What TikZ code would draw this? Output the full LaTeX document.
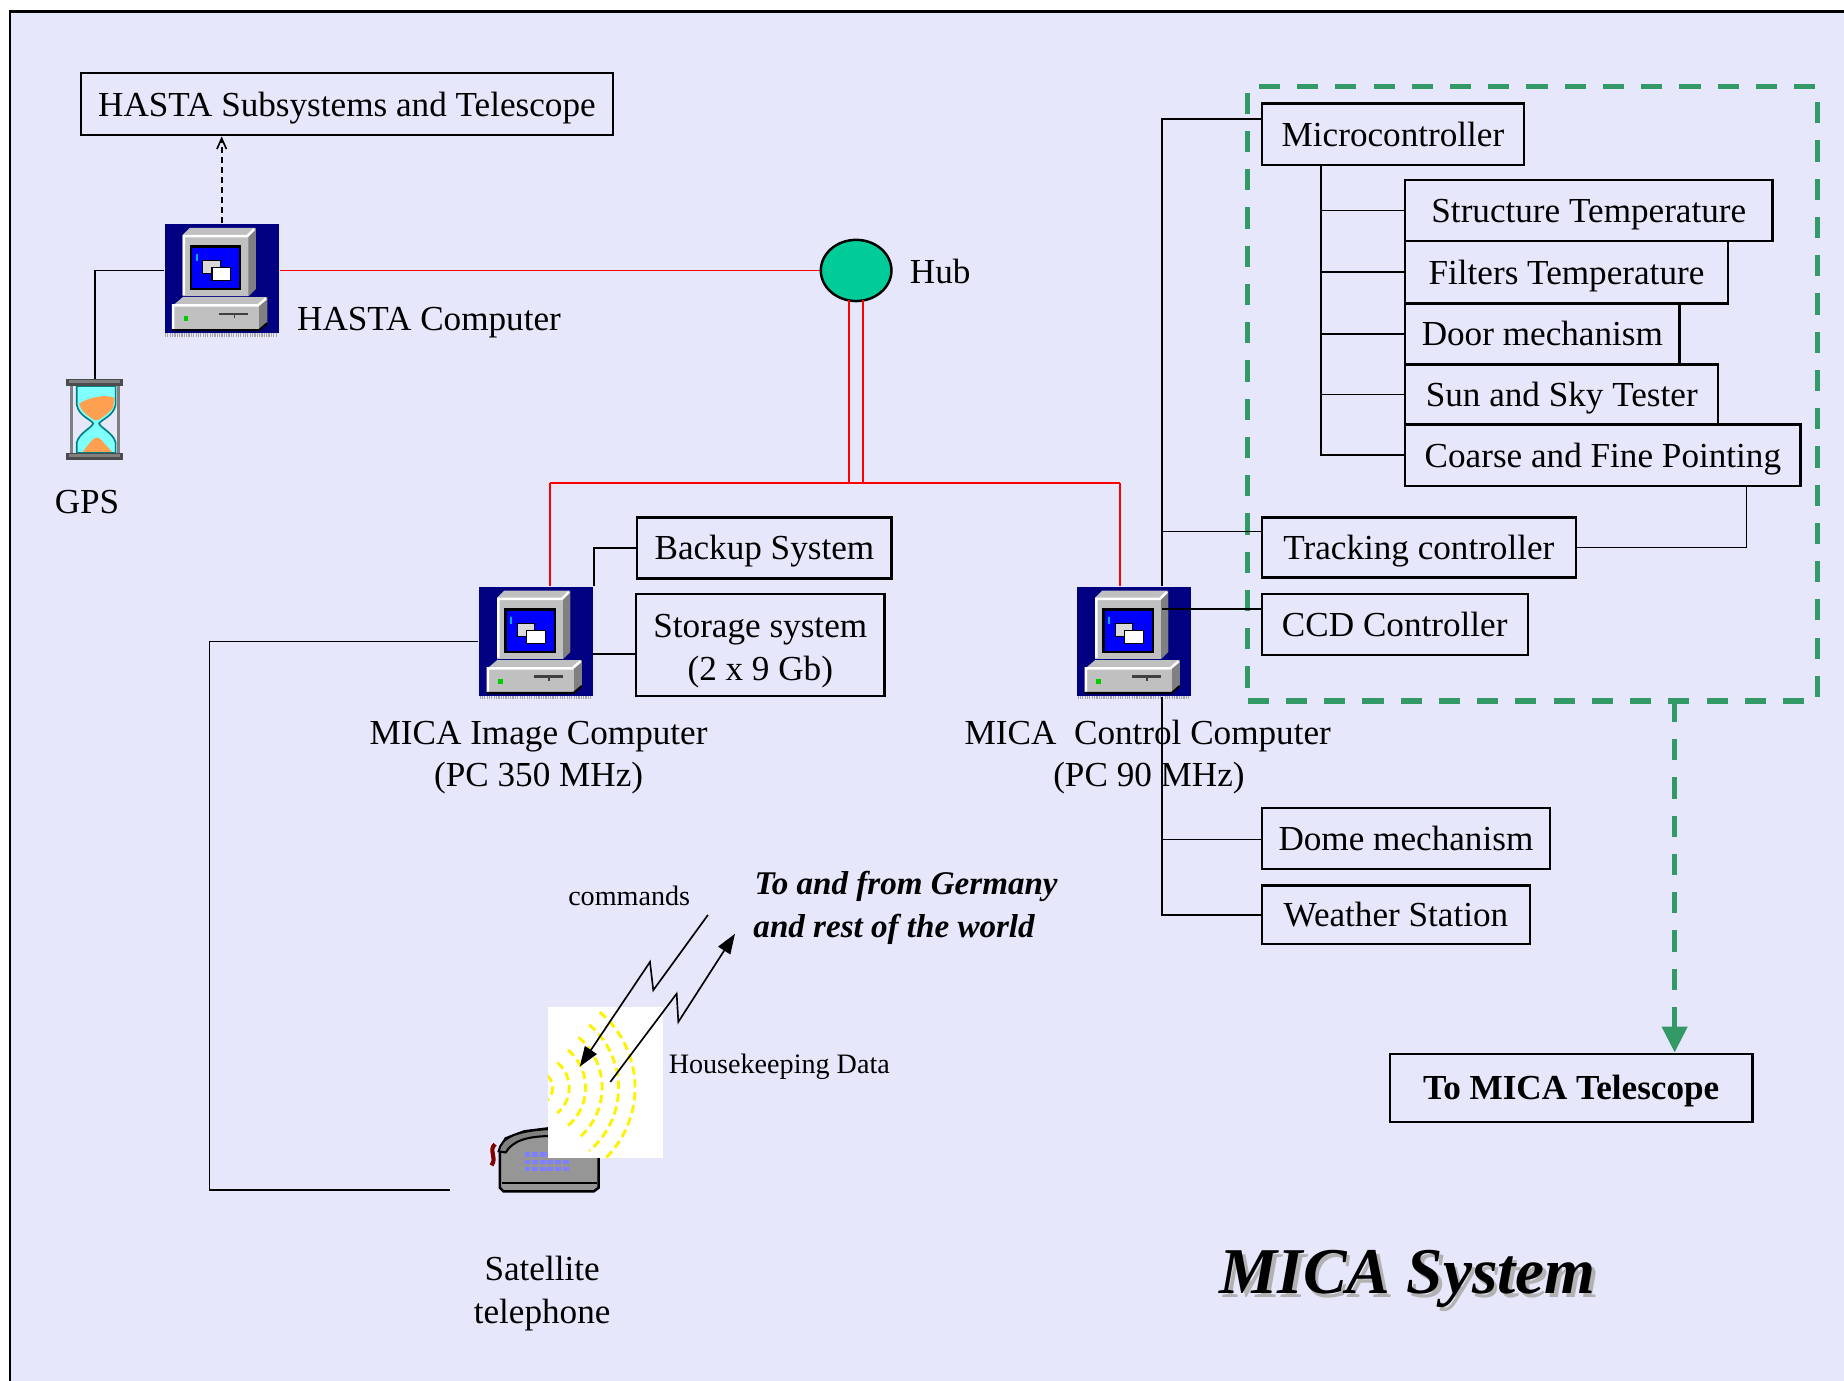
\documentclass[tikz,border=0pt]{standalone}
\usepackage{fontspec}
\setmainfont{Liberation Serif}
\usetikzlibrary{arrows.meta,shapes.geometric}

\definecolor{bgl}{RGB}{231,231,252}
\definecolor{navyc}{RGB}{0,0,128}
\definecolor{lgr}{RGB}{192,192,192}
\definecolor{dgr}{RGB}{128,128,128}
\definecolor{scr}{RGB}{0,0,255}
\definecolor{hubg}{RGB}{0,204,153}
\definecolor{grn}{RGB}{51,153,102}
\definecolor{wred}{RGB}{255,0,0}
\definecolor{sand}{RGB}{255,160,80}
\definecolor{glass}{RGB}{128,255,255}
\definecolor{keyb}{RGB}{128,128,255}
\definecolor{cordc}{RGB}{128,0,0}
\definecolor{phg}{RGB}{150,150,150}

\newcommand\diaglbl{\fontsize{8.5}{10.4}\selectfont}
\newcommand\diagsmall{\fontsize{6.8}{8}\selectfont}
\newcommand\diagworld{\fontsize{8}{10}\selectfont\bfseries\itshape}
\newcommand\diagtitle{\fontsize{15.8}{18}\selectfont\bfseries\itshape}

\tikzset{
  % desktop computer, drawn from the top left corner of its 97 x 93 navy tile
  pcicon/.pic={
    \fill[lgr] (16,10) -- (22,4) -- (78,4) -- (78,56) -- (72,62) -- (16,62) -- cycle;
    \fill[dgr] (72,10) -- (78,4) -- (78,56) -- (72,62) -- cycle;
    \draw[white, line width=0.6pt] (17,61) -- (17,11) -- (71,11) -- (77,5);
    \fill[black] (22,19) rectangle (66,57);
    \fill[scr] (24,21) rectangle (64,55);
    \fill[cyan] (27,26) rectangle (29,32);
    \filldraw[fill=lgr!60, draw=black, line width=0.3pt] (33,32) rectangle (48,43);
    \filldraw[fill=white, draw=black, line width=0.3pt] (41,38) rectangle (57,49);
    \fill[lgr] (9,69) -- (16,63) -- (88,63) -- (81,69) -- cycle;
    \fill[dgr] (81,69) -- (88,63) -- (88,85) -- (81,91) -- cycle;
    \fill[lgr] (7,69) rectangle (81,91);
    \draw[white, line width=0.6pt] (8,90) -- (8,70) -- (80,70) -- (87,64);
    \draw[black, line width=0.5pt] (7,91) -- (81,91) -- (88,85);
    \fill[green!80!black] (17,79) rectangle (21,83);
    \fill[black!75] (47,76) rectangle (72,78);
    \draw[black!75, line width=0.3pt] (60,78) -- (60,81);
    \draw[black!35, line width=0.8pt, dash pattern=on 0.01cm off 0.01cm] (1,95) -- (96,95);
  },
  % hourglass, drawn from the top left corner of its 48 x 69 tile
  hgicon/.pic={
    \path[fill=glass, draw=teal, line width=0.4pt]
      (9,6) -- (42,6) -- (42,22) .. controls (40,32) and (30,34) .. (28,38)
      .. controls (30,42) and (40,46) .. (42,54) -- (42,63) -- (9,63) -- (9,54)
      .. controls (11,46) and (21,42) .. (23,38) .. controls (21,34) and (11,32) .. (9,22) -- cycle;
    \fill[sand] (11,21) .. controls (20,15) and (34,13) .. (41,16) -- (40,24)
      .. controls (36,30) and (30,33) .. (27,35) -- (24,35) .. controls (18,31) and (12,27) .. (11,21) -- cycle;
    \fill[sand] (14,62) -- (22,52) .. controls (25,49) and (27,49) .. (30,52) -- (39,62) -- cycle;
    \fill[dgr] (3,5) rectangle (6,63);
    \fill[dgr] (43,5) rectangle (46,63);
    \fill[black!70] (0,0) rectangle (48,6);
    \fill[dgr] (2,1) rectangle (46,3);
    \fill[black!70] (0,63) rectangle (48,69);
    \fill[dgr] (2,64) rectangle (46,66);
  },
  wire/.style={draw=black, line width=0.4pt},
  redline/.style={draw=wred, line width=0.45pt},
  box/.style={draw=black, line width=0.55pt, inner sep=0pt, font=\diaglbl,
    text height=6.6pt, text depth=0.8pt},
  plainbox/.style={draw=black, line width=0.55pt, inner sep=0pt},
  txt/.style={font=\diaglbl, inner sep=0pt, anchor=base},
  pc/.style={rectangle, fill=navyc, inner sep=0pt, minimum width=0.97cm,
    minimum height=0.93cm},
  hglass/.style={rectangle, inner sep=0pt, minimum width=0.48cm,
    minimum height=0.69cm},
  grpbox/.style={draw=grn, line width=1.25pt, dash pattern=on 0.18cm off 0.145cm,
    inner sep=0pt},
  grnarrow/.style={draw=grn, line width=1.25pt, dash pattern=on 0.18cm off 0.145cm,
    -{Triangle[length=0.22cm, width=0.21cm, fill=grn]}},
  bolt/.style={wire, -{Triangle[length=0.17cm, width=0.12cm]}},
}

\begin{document}
\begin{tikzpicture}[x=0.01cm, y=-0.01cm]
  \useasboundingbox (0,0) rectangle (1568,1174);
  % page and frame
  \fill[white] (0,0) rectangle (1568,1174);
  \fill[bgl] (8,10) rectangle (1568,1174);
  \draw[line width=0.7pt] (8.5,1174) -- (8.5,9.6) -- (1568,9.6);

  % dashed group around the telescope controllers
  \node[grpbox, minimum width=4.84cm, minimum height=5.22cm] (grp) at (1303,335) {};

  % boxes
  \node[box, minimum width=4.52cm, minimum height=0.53cm] (hastasub) at (295,88.5) {HASTA Subsystems and Telescope};
  \node[box, minimum width=2.16cm, minimum height=0.52cm] (backup) at (650,466) {Backup System};
  \node[plainbox, minimum width=2.11cm, minimum height=0.87cm] (storage) at (646.5,548.5) {};
  \node[txt] (storl1) at (646.5,542) {Storage system};
  \node[txt] (storl2) at (646.5,579) {(2 x 9 Gb)};
  \node[box, minimum width=2.23cm, minimum height=0.52cm] (micro) at (1184.5,114) {Microcontroller};
  \node[box, minimum width=3.12cm, minimum height=0.52cm] (struct) at (1351,179) {Structure Temperature};
  \node[box, minimum width=2.74cm, minimum height=0.53cm] (filters) at (1332,231.5) {Filters Temperature};
  \node[box, minimum width=2.33cm, minimum height=0.52cm] (door) at (1311.5,284) {Door mechanism};
  \node[box, minimum width=2.66cm, minimum height=0.51cm] (sun) at (1328,335.5) {Sun and Sky Tester};
  \node[box, minimum width=3.36cm, minimum height=0.52cm] (coarse) at (1363,387) {Coarse and Fine Pointing};
  \node[box, minimum width=2.67cm, minimum height=0.51cm] (tracking) at (1206.5,465.5) {Tracking controller};
  \node[box, minimum width=2.26cm, minimum height=0.52cm] (ccd) at (1186,531) {CCD Controller};
  \node[box, minimum width=2.45cm, minimum height=0.52cm] (dome) at (1195.5,713) {Dome mechanism};
  \node[box, minimum width=2.28cm, minimum height=0.50cm] (weather) at (1187,778) {Weather Station};
  \node[box, font=\diaglbl\bfseries, minimum width=3.08cm, minimum height=0.58cm] (tomica) at (1336,925) {To MICA Telescope};

  % computers, hub, clock
  \node[pc] (hasta) at (188.5,237) {};
  \node[pc] (imgc) at (456,545.5) {};
  \node[pc] (ctlc) at (964.5,545.5) {};
  \pic at (hasta.north west) {pcicon};
  \pic at (imgc.north west) {pcicon};
  \pic at (ctlc.north west) {pcicon};
  \node[hglass] (gps) at (81,357.5) {};
  \pic at (gps.north west) {hgicon};
  \node[ellipse, draw=black, line width=0.6pt, fill=hubg, minimum width=0.6cm,
        minimum height=0.52cm, inner sep=0pt] (hub) at (728,230) {};

  % labels
  \node[txt, anchor=base west] (hublbl) at (773,241) {Hub};
  \node[txt, anchor=base west] (hastalbl) at (252,281) {HASTA Computer};
  \node[txt] (gpslbl) at (74,437) {GPS};
  \node[txt] (imgl1) at (458,633) {MICA Image Computer};
  \node[txt] (imgl2) at (458,669) {(PC 350 MHz)};
  \node[txt] (ctll1) at (976,633) {MICA~ Control Computer};
  \node[txt] (ctll2) at (977,669) {(PC 90 MHz)};
  \node[txt] (satl1) at (461,1089) {Satellite};
  \node[txt] (satl2) at (461,1125) {telephone};
  \node[txt, font=\diagsmall] (cmdlbl) at (535,770) {commands};
  \node[txt, font=\diagsmall, anchor=base west] (hklbl) at (568,913) {Housekeeping Data};
  \node[txt, font=\diagworld, anchor=base west] (worl1) at (641,761) {To and from Germany};
  \node[txt, font=\diagworld, anchor=base west] (worl2) at (640,797) {and rest of the world};
  \node[txt, font=\diagtitle, text=black!30] (titleshadow) at (1200,1103) {MICA System};
  \node[txt, font=\diagtitle] (title) at (1197,1100) {MICA System};

  % satellite telephone
  \draw[cordc, line width=1pt] (421,973) .. controls (415,978) and (423,984) .. (418,991);
  \filldraw[fill=phg, draw=black, line width=0.6pt]
    (425,978) -- (430,968) -- (446,962) -- (470,959) -- (506,960) -- (509,964)
    -- (509,1010) -- (505,1013) -- (428,1013) -- (425,1010) -- cycle;
  \filldraw[fill=dgr, draw=black, line width=0.5pt]
    (424,979) .. controls (426,967) and (440,961) .. (470,960) -- (470,966)
    .. controls (448,966) and (436,970) .. (430,980) -- cycle;
  \draw[black, line width=0.4pt] (427,1006) -- (508,1006);
  \foreach \r in {0,1,2}
    \foreach \c in {0,...,5}
      \fill[keyb] (446+\c*6.5,980+\r*6) rectangle ++(5,3.5);
  \fill[white] (466,856) rectangle (564,985);
  \begin{scope}
    \clip (466,856) rectangle (564,985);
    \foreach \r in {14,28,42,56,70,84}
      \draw[yellow, line width=0.7pt, dash pattern=on 0.07cm off 0.04cm]
        (456,925) ++(-50:\r) arc[start angle=-50, end angle=50, radius=\r];
  \end{scope}

  % HASTA connections
  \draw[wire, dash pattern=on 0.05cm off 0.035cm,
        -{Straight Barb[length=0.09cm, width=0.08cm]}] (hasta.north) -- (hasta.north |- hastasub.south);
  \draw[wire] (hasta.west |- hub) -| (gps.north);
  \draw[redline] (hasta.east |- hub.west) -- (hub.west);

  % LAN from the hub
  \coordinate (hubL) at (722,255.5);
  \coordinate (hubR) at (734,255.5);
  \coordinate (rjL) at (468,411);
  \coordinate (rjR) at (952,411);
  \draw[redline] (hubL) -- (hubL |- rjL);
  \draw[redline] (hubR) -- (hubR |- rjL);
  \draw[redline] (rjL) -- (rjR);
  \draw[redline] (rjL) -- (rjL |- imgc.north);
  \draw[redline] (rjR) -- (rjR |- ctlc.north);

  % image computer peripherals
  \draw[wire] (imgc.north east) |- (backup.west);
  \coordinate (stJ) at (504,556);
  \draw[wire] (stJ) -- (stJ -| storage.west);
  \coordinate (lX) at (178,1012);
  \coordinate (phoneIn) at (383,1012);
  \draw[wire] (imgc.west) -- (imgc.west -| lX) -- (lX) -- (phoneIn);

  % control computer bus
  \coordinate (busT) at (988,101);
  \coordinate (busB) at (988,778);
  \coordinate (trkJ) at (988,452);
  \coordinate (ccdJ) at (988,518);
  \coordinate (domeJ) at (988,714);
  \draw[wire] (busT -| micro.west) -- (busT) -- (busT |- ctlc.north);
  \draw[wire] (busT |- ctlc.south) -- (busB) -- (busB -| weather.west);
  \draw[wire] (trkJ) -- (trkJ -| tracking.west);
  \draw[wire] (ccdJ) -- (ccdJ -| ccd.west);
  \draw[wire] (domeJ) -- (domeJ -| dome.west);

  % microcontroller tree
  \coordinate (mcT) at (1123,140);
  \draw[wire] (mcT) -- (mcT |- coarse.west) -- (coarse.west);
  \foreach \n in {struct,filters,door,sun}
    \draw[wire] (mcT |- \n.west) -- (\n.west);
  \coordinate (cfJ) at (1485,413);
  \draw[wire] (cfJ) |- (tracking.east);

  % link to the telescope
  \coordinate (gA) at (1424,596);
  \draw[grnarrow] (gA) -- (gA |- tomica.north);

  % radio links
  \coordinate (cmdS) at (602,778);
  \coordinate (cmdE) at (493,907);
  \draw[bolt] (cmdS) -- (555.5,842) -- (552.7,818) -- (cmdE);
  \coordinate (hkS) at (519,920);
  \coordinate (hkE) at (625,794);
  \draw[bolt] (hkS) -- (575.4,845) -- (576.8,869) -- (hkE);
\end{tikzpicture}
\end{document}
